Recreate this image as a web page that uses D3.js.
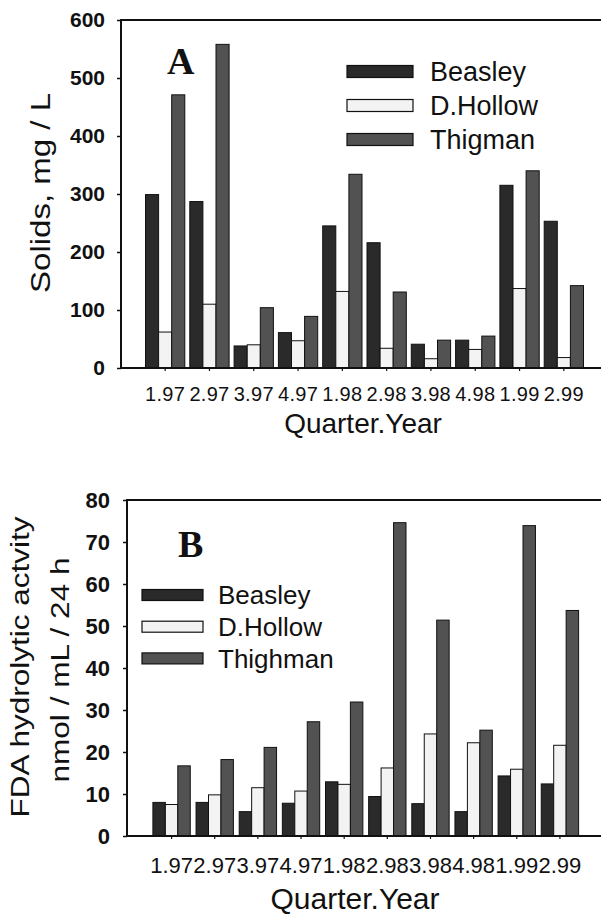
<!DOCTYPE html>
<html>
<head>
<meta charset="utf-8">
<script src="https://cdn.jsdelivr.net/npm/d3@7"></script>
<style>
body { margin: 0; background: #fff; }
text { font-family: "Liberation Sans", Arial, sans-serif; fill: #111; }
</style>
</head>
<body>
<svg id="chart" width="601" height="919"></svg>
<script>
// x categories (same for both panels)
var quarters = ["1.97", "2.97", "3.97", "4.97", "1.98", "2.98", "3.98", "4.98", "1.99", "2.99"]

// Panel A - solids, mg / L
var namesA = ["Beasley", "D.Hollow", "Thigman"]
var solidsBeasley = [299, 287, 38, 61, 245, 216, 41, 48, 315, 253]
var solidsHollow = [62, 110, 40, 47, 132, 34, 16, 32, 137, 18]
var solidsThigman = [471, 558, 104, 89, 334, 131, 48, 55, 340, 142]
var ticksA = [0, 100, 200, 300, 400, 500, 600]

// Panel B - FDA hydrolytic activity
var namesB = ["Beasley", "D.Hollow", "Thighman"]
var fdaBeasley = [8.0, 8.0, 5.8, 7.8, 12.9, 9.4, 7.7, 5.8, 14.3, 12.4]
var fdaHollow = [7.5, 9.8, 11.5, 10.7, 12.3, 16.2, 24.3, 22.2, 15.9, 21.6]
var fdaThighman = [16.7, 18.2, 21.1, 27.2, 31.9, 74.6, 51.4, 25.2, 73.9, 53.7]
var ticksB = [0, 10, 20, 30, 40, 50, 60, 70, 80]

var fills = ["#2a2a2a", "#f3f3f3", "#525252"]

var svg = d3.select("#chart")

drawPanel({
	names: namesA,
	series: [solidsBeasley, solidsHollow, solidsThigman],
	ticks: ticksA,
	yMax: 600,
	left: 121, top: 20, bottom: 368, right: 601,
	x0: 143, x1: 586, inset: 2.5,
	yFont: 21, yPad: 12,
	xFont: 20, xPad: 16, xSpacing: 0.3,
	legend: {x: 347, y: 71.5, w: 66, h: 12, step: 34, tx: 430, font: 27},
	letter: {t: "A", x: 167, y: 74},
	xTitle: {x: 363, y: 433, font: 28},
})

drawPanel({
	names: namesB,
	series: [fdaBeasley, fdaHollow, fdaThighman],
	ticks: ticksB,
	yMax: 80,
	left: 127, top: 500, bottom: 836, right: 601,
	x0: 150, x1: 581.5, inset: 2.9,
	yFont: 22, yPad: 13,
	xFont: 22, xPad: 18, xSpacing: 0,
	legend: {x: 142, y: 595, w: 61, h: 11, step: 31.7, tx: 218, font: 26},
	letter: {t: "B", x: 178, y: 557},
	xTitle: {x: 355, y: 909, font: 30},
})

//y axis titles
svg.append("text").
	attr("transform", "translate(50,193) rotate(-90)").
	attr("text-anchor", "middle").
	attr("textLength", 200).
	attr("lengthAdjust", "spacingAndGlyphs").
	style("font-size", "28px").
	text("Solids, mg / L")

svg.append("text").
	attr("transform", "translate(29,667) rotate(-90)").
	attr("text-anchor", "middle").
	attr("textLength", 301).
	attr("lengthAdjust", "spacingAndGlyphs").
	style("font-size", "26px").
	text("FDA hydrolytic actvity")

svg.append("text").
	attr("transform", "translate(69,670) rotate(-90)").
	attr("text-anchor", "middle").
	attr("textLength", 225).
	attr("lengthAdjust", "spacingAndGlyphs").
	style("font-size", "26px").
	text("nmol / mL / 24 h")


function drawPanel(p){
	var g = svg.append("g")

	var x = d3.scaleBand().
				domain(quarters).
				range([p.x0, p.x1])
	var xs = d3.scaleBand().
				domain(p.names).
				range([p.inset, x.bandwidth() - p.inset])
	var y = d3.scaleLinear().
				domain([0, p.yMax]).
				range([p.bottom, p.top])

	//bars, one pass per series
	p.series.forEach(function(vals, s){
		g.append("g").
			selectAll("rect").
			data(vals).
			enter().
			append("rect").
			attr("x", function(d, i){ return x(quarters[i]) + xs(p.names[s]) }).
			attr("y", function(d){ return y(d) }).
			attr("width", xs.bandwidth()).
			attr("height", function(d){ return y(0) - y(d) }).
			style("fill", fills[s]).
			style("stroke", "#111").
			style("stroke-width", 1)
	})

	//y axis
	var yAxis = g.append("g").
				attr("transform", "translate(" + p.left + ",0)").
				call(d3.axisLeft(y).tickValues(p.ticks).tickSize(4).tickPadding(p.yPad))
	yAxis.select(".domain").remove()
	yAxis.selectAll("line").style("stroke", "#111").style("stroke-width", 1.5)
	yAxis.selectAll("text").
		style("font-size", p.yFont + "px").
		style("font-weight", "bold").
		style("font-family", "'Liberation Sans', Arial, sans-serif").
		style("fill", "#111")

	//x axis
	var xAxis = g.append("g").
				attr("transform", "translate(0," + p.bottom + ")").
				call(d3.axisBottom(x).tickSize(3).tickPadding(p.xPad))
	xAxis.select(".domain").remove()
	xAxis.selectAll("line").style("stroke", "#111").style("stroke-width", 1.2)
	xAxis.selectAll("text").
		style("font-size", p.xFont + "px").
		style("letter-spacing", p.xSpacing + "px").
		style("font-family", "'Liberation Sans', Arial, sans-serif").
		style("fill", "#111")

	//frame: left, top, bottom
	var frame = [
		[p.left, p.top, p.left, p.bottom],
		[p.left, p.top, p.right, p.top],
		[p.left, p.bottom, p.right, p.bottom]
	]
	g.selectAll(".frame").
		data(frame).
		enter().
		append("line").
		attr("x1", function(d){ return d[0] }).
		attr("y1", function(d){ return d[1] }).
		attr("x2", function(d){ return d[2] }).
		attr("y2", function(d){ return d[3] }).
		style("stroke", "#111").
		style("stroke-width", 2).
		style("stroke-linecap", "square")

	//legend
	var L = p.legend
	var item = g.selectAll(".leg").
				data(p.names).
				enter().
				append("g").
				attr("transform", function(d, i){ return "translate(0," + (L.y + i * L.step) + ")" })
	item.append("rect").
		attr("x", L.x).
		attr("y", -L.h / 2).
		attr("width", L.w).
		attr("height", L.h).
		style("fill", function(d, i){ return fills[i] }).
		style("stroke", "#111").
		style("stroke-width", 1.2)
	item.append("text").
		attr("x", L.tx).
		attr("dy", "0.36em").
		style("font-size", L.font + "px").
		text(function(d){ return d })

	//panel letter
	g.append("text").
		attr("x", p.letter.x).
		attr("y", p.letter.y).
		style("font-family", "'Liberation Serif', 'Times New Roman', serif").
		style("font-weight", "bold").
		style("font-size", "38px").
		text(p.letter.t)

	//x title
	g.append("text").
		attr("x", p.xTitle.x).
		attr("y", p.xTitle.y).
		attr("text-anchor", "middle").
		style("font-size", p.xTitle.font + "px").
		text("Quarter.Year")
}
</script>
</body>
</html>
